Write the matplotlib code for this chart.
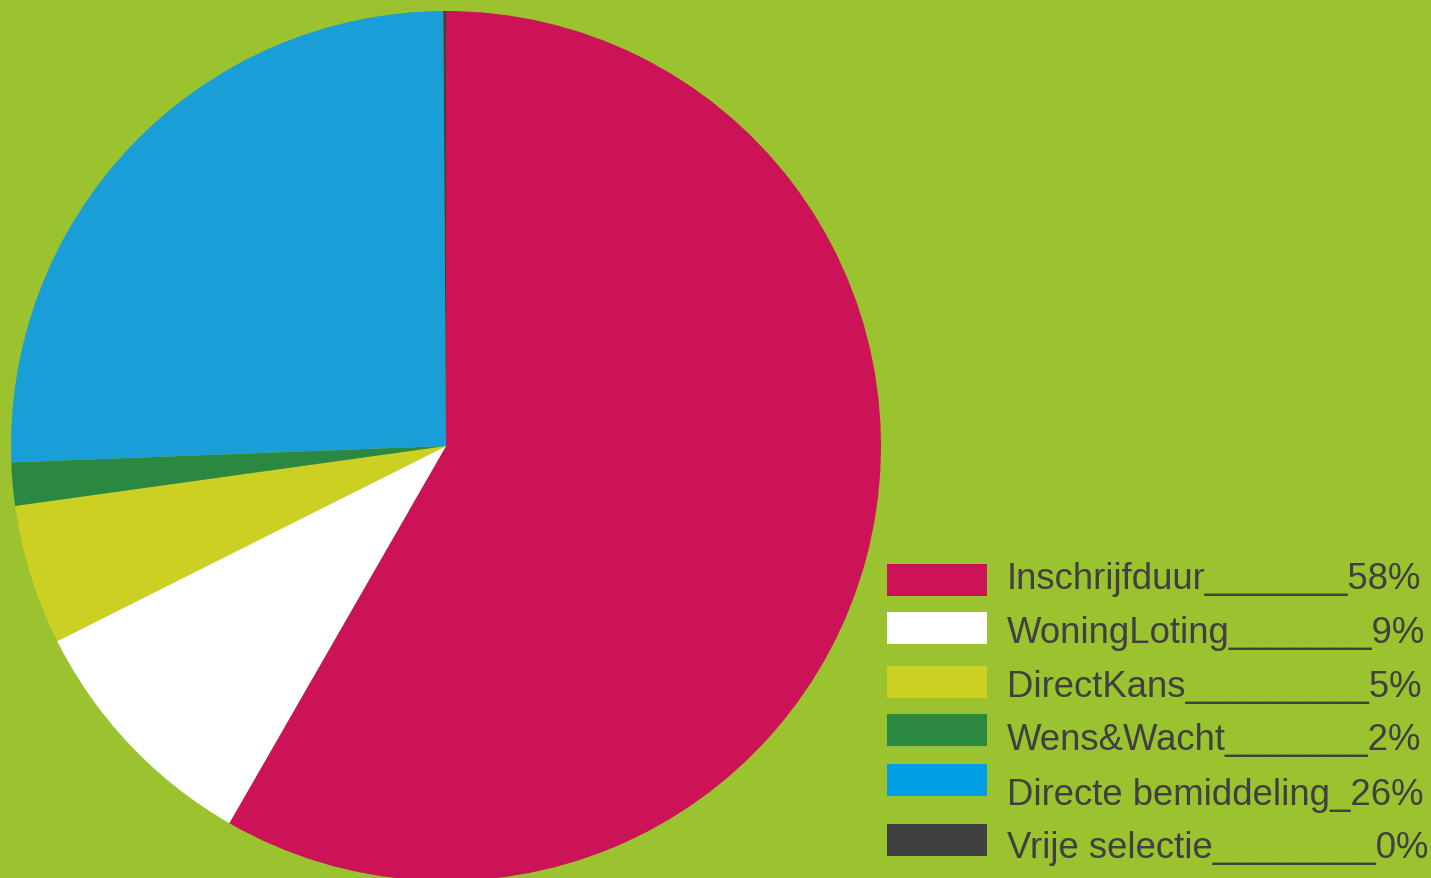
import matplotlib.pyplot as plt
from matplotlib.patches import Rectangle

# slice data (percent)
labels = ['Inschrijfduur', 'WoningLoting', 'DirectKans', 'Wens&Wacht',
          'Directe bemiddeling', 'Vrije selectie']
values = [58.3, 9.3, 5.2, 1.6, 25.5, 0.1]
legend_text = ['Inschrijfduur_______58%', 'WoningLoting_______9%',
               'DirectKans_________5%', 'Wens&Wacht_______2%',
               'Directe bemiddeling_26%', 'Vrije selectie________0%']
pie_colors = ['#CC1357', '#FFFFFF', '#CCD022', '#2B8841', '#1A9ED8', '#404040']
key_colors = ['#CC1357', '#FFFFFF', '#CCD022', '#2B8841', '#009FE3', '#404040']

bg = '#9BC22F'
W, H = 1431, 879

fig = plt.figure(figsize=(W / 100, H / 100), dpi=100, facecolor=bg)

# pie axes: centre (446, 447), radius 435 px
cx, cy, r = 446, 447, 435
ax = fig.add_axes([(cx - r) / W, (H - cy - r) / H, 2 * r / W, 2 * r / H])
ax.pie(values, colors=pie_colors, startangle=90, counterclock=False,
       radius=1, wedgeprops=dict(linewidth=0))
ax.set_xlim(-1, 1)
ax.set_ylim(-1, 1)
ax.set_aspect('equal')
ax.axis('off')

# legend drawn by hand (pixel positions from the reference)
key_tops = [565, 613, 667, 715, 765, 825]
text_base = [589, 643, 697, 750, 805, 858]
for i in range(len(labels)):
    y0 = key_tops[i]
    fig.patches.append(Rectangle((887 / W, 1 - (y0 + 32) / H), 100 / W, 32 / H,
                                 transform=fig.transFigure, facecolor=key_colors[i],
                                 edgecolor='none'))
    fig.text(1007 / W, 1 - text_base[i] / H, legend_text[i], fontsize=26.3,
             family='Liberation Sans', color='#404040', va='baseline', ha='left')

fig.savefig('out.png', dpi=100, facecolor=bg)
